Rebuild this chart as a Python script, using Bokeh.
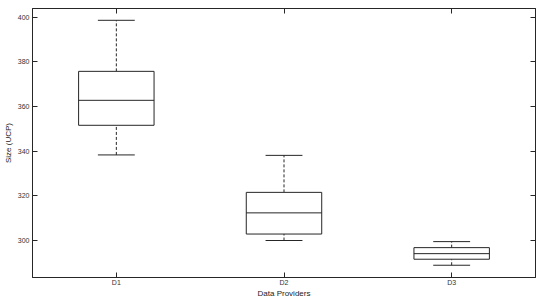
from bokeh.plotting import figure
from bokeh.models import Range1d, FixedTicker, LinearAxis, ColumnDataSource, CustomLabelingPolicy
from bokeh.embed import file_html
from bokeh.resources import INLINE

# Data
categories = ["D1", "D2", "D3"]
positions = [1, 2, 3]
whisker_low = [338.3, 299.9, 288.8]
q1 = [351.6, 302.8, 291.5]
median = [362.8, 312.3, 294.0]
q3 = [375.8, 321.5, 296.7]
whisker_high = [398.7, 338.1, 299.4]
y_ticks = [300, 320, 340, 360, 380, 400]

box_w = 0.45
cap_w = 0.22
line_col = "#262626"
font = "Liberation Sans"

src = ColumnDataSource(dict(
    x=positions,
    xl=[p - box_w / 2 for p in positions],
    xr=[p + box_w / 2 for p in positions],
    cl=[p - cap_w / 2 for p in positions],
    cr=[p + cap_w / 2 for p in positions],
    lo=whisker_low, q1=q1, med=median, q3=q3, hi=whisker_high,
))

p = figure(width=550, height=303, output_backend="svg", toolbar_location=None,
           x_range=Range1d(0.5, 3.5), y_range=Range1d(283.3, 404.0),
           min_border_left=31, min_border_right=9, min_border_top=8, min_border_bottom=26)
p.grid.visible = False
p.background_fill_color = "white"
p.border_fill_color = "white"
p.outline_line_color = line_col
p.outline_line_width = 1

# whiskers (dashed)
p.segment(x0="x", y0="q3", x1="x", y1="hi", source=src, line_color=line_col,
          line_width=1, line_dash="3 2")
p.segment(x0="x", y0="lo", x1="x", y1="q1", source=src, line_color=line_col,
          line_width=1, line_dash="3 2")
# caps
p.segment(x0="cl", y0="hi", x1="cr", y1="hi", source=src, line_color=line_col, line_width=1)
p.segment(x0="cl", y0="lo", x1="cr", y1="lo", source=src, line_color=line_col, line_width=1)
# boxes
p.vbar(x="x", width=box_w, top="q3", bottom="q1", source=src,
       fill_color="white", line_color=line_col, line_width=1)
# medians
p.segment(x0="xl", y0="med", x1="xr", y1="med", source=src, line_color=line_col, line_width=1)

hide_all = CustomLabelingPolicy(code="""
    for (const i of Array.from(indices)) { indices.unset(i) }
    return indices
""")

def style(ax, labels=True, tick_standoff=2, label_standoff=0):
    ax.major_tick_in = 5
    ax.major_tick_out = 0
    ax.minor_tick_line_color = None
    ax.axis_line_color = line_col
    ax.major_tick_line_color = line_col
    if labels:
        ax.major_label_text_font = font
        ax.major_label_text_font_size = "7px"
        ax.major_label_text_color = "#333333"
        ax.major_label_standoff = tick_standoff
        ax.axis_label_text_font = font
        ax.axis_label_text_font_size = "8px"
        ax.axis_label_text_font_style = "normal"
        ax.axis_label_text_color = "#222222"
        ax.axis_label_standoff = label_standoff
    else:
        ax.major_label_policy = hide_all
        ax.major_label_text_font_size = "7px"
        ax.major_label_standoff = 0
        ax.axis_label = None

xt = FixedTicker(ticks=positions)
yt = FixedTicker(ticks=y_ticks)

p.xaxis.ticker = xt
p.xaxis.major_label_overrides = {pos: c for pos, c in zip(positions, categories)}
p.xaxis.axis_label = "Data Providers"
p.yaxis.ticker = yt
p.yaxis.axis_label = "Size (UCP)"
style(p.xaxis[0], tick_standoff=1, label_standoff=0)
style(p.yaxis[0], tick_standoff=3, label_standoff=2)

right = LinearAxis(ticker=yt)
style(right, labels=False)
p.add_layout(right, "right")
top = LinearAxis(ticker=xt)
style(top, labels=False)
p.add_layout(top, "above")

open("out.html", "w").write(file_html(p, INLINE))
